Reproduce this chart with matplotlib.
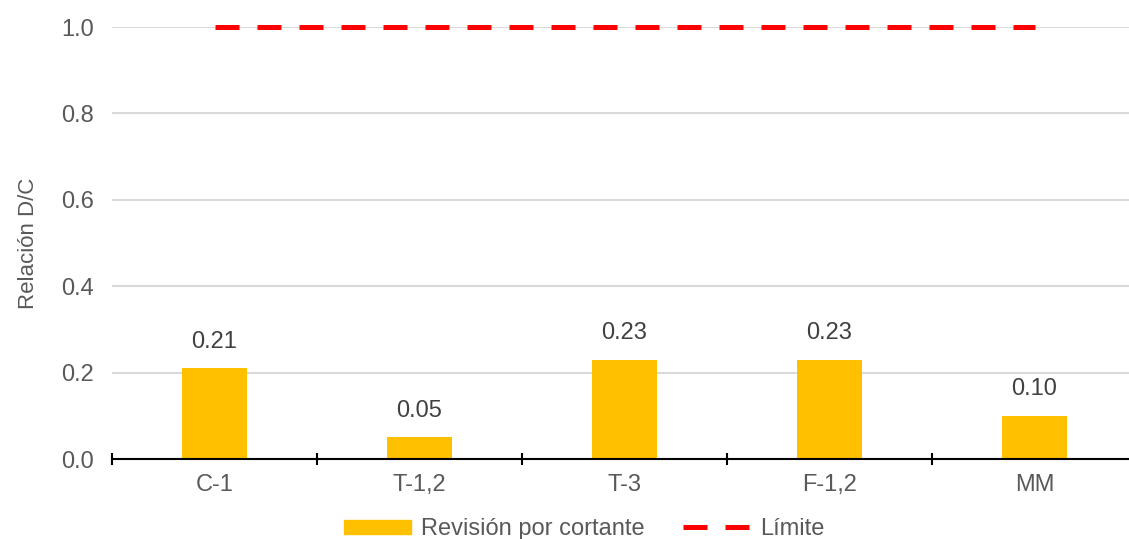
import matplotlib.pyplot as plt
from matplotlib.lines import Line2D
from matplotlib.patches import Patch

categorias = ["C-1", "T-1,2", "T-3", "F-1,2", "MM"]
cortante = [0.21, 0.05, 0.23, 0.23, 0.10]
limite = [1.0, 1.0, 1.0, 1.0, 1.0]

gris = "#595959"
fs = 17
plt.rcParams['font.family'] = ['Liberation Sans', 'DejaVu Sans']

fig = plt.figure(figsize=(11.29, 5.39), dpi=100)
ax = fig.add_axes([112 / 1129, 80 / 539, 1025 / 1129, 432 / 539])

x = list(range(len(categorias)))
ax.bar(x, cortante, width=0.32, color="#FFC000", zorder=3)
# linea limite: trazos de ~24 px con huecos de ~18 px
ax.plot(x, limite, color="#FF0000", lw=3.6, dashes=(4.8, 3.6),
        dash_capstyle='butt', zorder=4, clip_on=False)

for xi, v in zip(x, cortante):
    ax.annotate(f"{v:.2f}", (xi, v), xytext=(0, 19), textcoords="offset points",
                ha="center", va="center", fontsize=fs, color="#404040")

ax.set_xlim(-0.5, 4.5)
ax.set_ylim(0, 1.0)
ax.set_yticks([0, 0.2, 0.4, 0.6, 0.8, 1.0])
ax.set_yticklabels([f"{t:.1f}" for t in [0, 0.2, 0.4, 0.6, 0.8, 1.0]])
ax.yaxis.grid(True, color="#D9D9D9", lw=1.5, zorder=0)
ax.set_axisbelow(True)

ax.set_xticks([i - 0.5 for i in range(6)])
ax.set_xticklabels([])
ax.set_xticks(x, minor=True)
ax.set_xticklabels(categorias, minor=True)
ax.tick_params(axis="x", which="major", direction="inout", length=8, width=1.5, color="black")
ax.tick_params(axis="x", which="minor", length=0, pad=11, labelsize=fs, labelcolor=gris)
ax.tick_params(axis="y", length=0, pad=13, labelsize=fs, labelcolor=gris)

for s in ["top", "right", "left"]:
    ax.spines[s].set_visible(False)
ax.spines["bottom"].set_linewidth(1.5)
ax.spines["bottom"].set_zorder(5)

ax.set_ylabel("Relación D/C", fontsize=16, color=gris)
ax.yaxis.set_label_coords(-(112 - 39) / 1025, 0.5)

handles = [Patch(color="#FFC000"),
           Line2D([0], [0], color="#FF0000", lw=3.6, dashes=(4.8, 3.6), dash_capstyle='butt')]
leg = fig.legend(handles, ["Revisión por cortante", "Límite"], loc="center",
                 bbox_to_anchor=(584 / 1129, 10 / 539), ncol=2, frameon=False,
                 fontsize=fs, handlelength=2.85, handleheight=0.55, columnspacing=1.65,
                 handletextpad=0.4, borderpad=0)
for t in leg.get_texts():
    t.set_color(gris)

fig.savefig("out.png", dpi=100)
